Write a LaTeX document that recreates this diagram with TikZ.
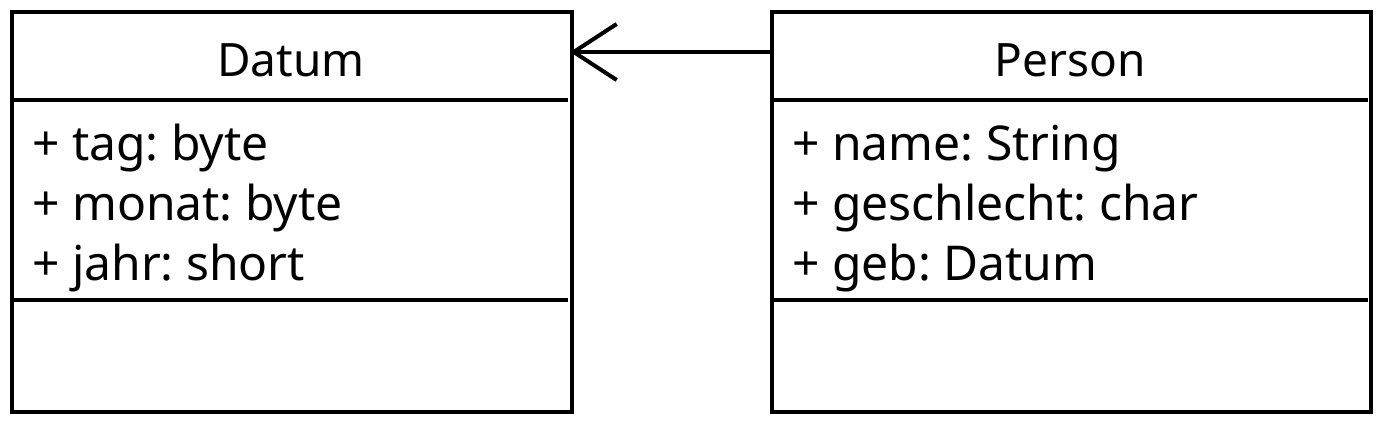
\documentclass[tikz,border=0pt]{standalone}
\usepackage{fontspec}
\setmainfont{Noto Sans}
\usetikzlibrary{arrows.meta}
\frenchspacing
\begin{document}
\begin{tikzpicture}[x=1pt,y=-1pt,
  classbox/.style={draw=black,line width=4pt,rectangle,inner sep=0pt,outer sep=0pt,anchor=north west},
  divider/.style={draw=black,line width=4pt},
  titletext/.style={font=\fontsize{46}{54}\selectfont,anchor=base,inner sep=0pt},
  attrtext/.style={font=\fontsize{48}{54}\selectfont,anchor=base west,inner sep=0pt},
  assoc/.style={draw=black,line width=4pt,-{Straight Barb[length=43pt,width=56pt,line width=4pt]}}]
\useasboundingbox (0,0) rectangle (1380,420);
% Datum
\node[classbox,minimum width=560pt,minimum height=400pt] (datum) at (12,12) {};
\node[titletext] (datumtitle) at (291,77) {Datum};
\coordinate (d1l) at (12,100); \coordinate (d1r) at (568,100);
\coordinate (d2l) at (12,300); \coordinate (d2r) at (568,300);
\draw[divider] (d1l) -- (d1r);
\draw[divider] (d2l) -- (d2r);
\node[attrtext] (dattr1) at (32,160) {+ tag: byte};
\node[attrtext] (dattr2) at (32,220) {+ monat: byte};
\node[attrtext] (dattr3) at (32,280) {+ jahr: short};
% Person
\node[classbox,minimum width=599pt,minimum height=400pt] (person) at (772,12) {};
\node[titletext] (persontitle) at (1070,77) {Person};
\coordinate (p1l) at (772,100); \coordinate (p1r) at (1368,100);
\coordinate (p2l) at (772,300); \coordinate (p2r) at (1368,300);
\draw[divider] (p1l) -- (p1r);
\draw[divider] (p2l) -- (p2r);
\node[attrtext] (pattr1) at (792,160) {+ name: String};
\node[attrtext] (pattr2) at (792,220) {+ geschlecht: char};
\node[attrtext] (pattr3) at (792,280) {+ geb: Datum};
% association
\coordinate (astart) at (772,52);
\coordinate (aend) at (570,52);
\draw[assoc] (astart) -- (aend);
\end{tikzpicture}
\end{document}
